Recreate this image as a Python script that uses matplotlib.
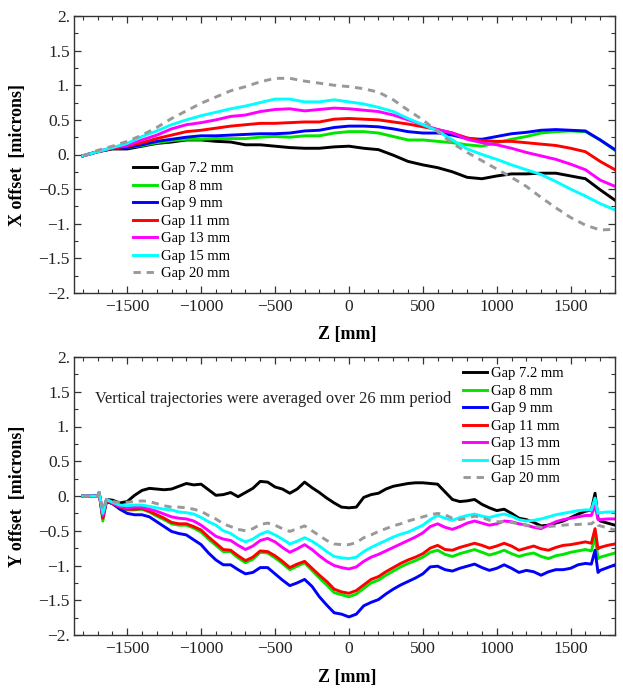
import numpy as np
import matplotlib
matplotlib.use("Agg")
import matplotlib.pyplot as plt

plt.rcParams['font.family'] = ['Liberation Serif', 'DejaVu Serif']

# ---------------- top panel: X offset ----------------
z_top = [-1800, -1700, -1600, -1500, -1400, -1300, -1200, -1100, -1000, -900,
         -800, -700, -600, -500, -400, -300, -200, -100, 0, 100, 200, 300, 400,
         500, 600, 700, 800, 900, 1000, 1100, 1200, 1300, 1400, 1500, 1600,
         1700, 1800]

x_gap72 = [-0.02, 0.04, 0.08, 0.08, 0.12, 0.16, 0.18, 0.21, 0.21, 0.19, 0.18, 0.14,
           0.14, 0.12, 0.10, 0.09, 0.09, 0.11, 0.12, 0.09, 0.07, -0.01, -0.10,
           -0.15, -0.19, -0.25, -0.33, -0.35, -0.31, -0.28, -0.28, -0.27, -0.27,
           -0.31, -0.35, -0.51, -0.66]
x_gap8 = [-0.02, 0.04, 0.09, 0.10, 0.13, 0.17, 0.20, 0.22, 0.22, 0.23, 0.23, 0.23,
          0.25, 0.26, 0.25, 0.27, 0.27, 0.31, 0.33, 0.33, 0.31, 0.26, 0.21, 0.21,
          0.19, 0.17, 0.14, 0.12, 0.17, 0.22, 0.26, 0.31, 0.33, 0.34, 0.33, 0.21, 0.06]
x_gap9 = [-0.02, 0.04, 0.09, 0.10, 0.14, 0.19, 0.22, 0.25, 0.27, 0.27, 0.28, 0.29,
          0.30, 0.30, 0.31, 0.34, 0.35, 0.39, 0.41, 0.41, 0.40, 0.37, 0.33, 0.31,
          0.31, 0.28, 0.23, 0.22, 0.26, 0.30, 0.32, 0.35, 0.36, 0.35, 0.34, 0.21, 0.07]
x_gap11 = [-0.02, 0.04, 0.09, 0.12, 0.17, 0.23, 0.28, 0.33, 0.35, 0.38, 0.41, 0.43,
           0.45, 0.45, 0.46, 0.47, 0.47, 0.51, 0.52, 0.51, 0.50, 0.47, 0.44, 0.40,
           0.36, 0.31, 0.24, 0.20, 0.19, 0.19, 0.17, 0.15, 0.13, 0.09, 0.04, -0.10, -0.22]
x_gap13 = [-0.02, 0.04, 0.10, 0.13, 0.21, 0.28, 0.37, 0.43, 0.46, 0.50, 0.55, 0.57,
           0.62, 0.65, 0.66, 0.63, 0.65, 0.67, 0.66, 0.64, 0.62, 0.57, 0.50, 0.43,
           0.36, 0.31, 0.22, 0.17, 0.14, 0.09, 0.03, -0.02, -0.07, -0.14, -0.22,
           -0.37, -0.46]
x_gap15 = [-0.02, 0.04, 0.10, 0.16, 0.26, 0.34, 0.43, 0.50, 0.56, 0.61, 0.66, 0.70,
           0.75, 0.80, 0.80, 0.76, 0.76, 0.79, 0.76, 0.73, 0.68, 0.62, 0.52, 0.43,
           0.34, 0.21, 0.08, 0.00, -0.07, -0.15, -0.22, -0.29, -0.39, -0.50, -0.60,
           -0.71, -0.80]
x_gap20 = [-0.02, 0.06, 0.12, 0.19, 0.28, 0.39, 0.52, 0.63, 0.74, 0.83, 0.92, 0.98,
           1.05, 1.10, 1.10, 1.06, 1.03, 1.00, 0.98, 0.95, 0.90, 0.79, 0.64, 0.50,
           0.33, 0.16, 0.03, -0.09, -0.21, -0.33, -0.46, -0.62, -0.77, -0.91, -1.02,
           -1.09, -1.08]

# ---------------- bottom panel: Y offset ----------------
z_bot = [-1800, -1750, -1700, -1690, -1665, -1640,
         -1600, -1550, -1500, -1450, -1400, -1350, -1300, -1250, -1200, -1150, -1100, -1050,
         -1000, -950, -900, -850, -800, -750, -700, -650, -600, -550, -500, -450,
         -400, -350, -300, -250, -200, -150, -100, -50, 0, 50, 100, 150,
         200, 250, 300, 350, 400, 450, 500, 550, 600, 650, 700, 750,
         800, 850, 900, 950, 1000, 1050, 1100, 1150, 1200, 1250, 1300, 1350,
         1400, 1450, 1500, 1550, 1600,
         1640, 1665, 1685, 1700, 1750, 1800]

y_gap72 = [0.00, 0.00, 0.00, 0.05, -0.25, -0.05,
           -0.06, -0.10, -0.08, 0.01, 0.08, 0.11, 0.10, 0.09, 0.10, 0.14, 0.18, 0.16,
           0.17, 0.09, 0.01, 0.02, 0.05, -0.01, 0.05, 0.11, 0.21, 0.20, 0.13, 0.10,
           0.04, 0.10, 0.20, 0.12, 0.05, -0.03, -0.10, -0.16, -0.17, -0.16, -0.02, 0.02,
           0.04, 0.10, 0.14, 0.16, 0.18, 0.19, 0.19, 0.18, 0.17, 0.06, -0.05, -0.08,
           -0.07, -0.05, -0.12, -0.17, -0.21, -0.19, -0.25, -0.32, -0.34, -0.38, -0.43, -0.42,
           -0.39, -0.36, -0.31, -0.26, -0.22,
           -0.20, 0.04, -0.32, -0.36, -0.39, -0.42]
y_gap8 = [0.00, 0.00, 0.00, 0.05, -0.36, -0.07,
          -0.11, -0.17, -0.20, -0.20, -0.19, -0.23, -0.29, -0.34, -0.40, -0.42, -0.42, -0.46,
          -0.52, -0.62, -0.71, -0.80, -0.80, -0.89, -0.96, -0.91, -0.81, -0.82, -0.89, -0.97,
          -1.06, -1.01, -0.96, -1.07, -1.18, -1.28, -1.39, -1.42, -1.45, -1.41, -1.33, -1.25,
          -1.21, -1.14, -1.08, -1.02, -0.97, -0.93, -0.88, -0.81, -0.78, -0.84, -0.87, -0.83,
          -0.80, -0.77, -0.81, -0.85, -0.82, -0.78, -0.83, -0.87, -0.84, -0.82, -0.87, -0.90,
          -0.86, -0.84, -0.81, -0.79, -0.77,
          -0.79, -0.58, -0.90, -0.88, -0.85, -0.82]
y_gap9 = [0.00, 0.00, 0.01, 0.04, -0.30, -0.08,
          -0.11, -0.19, -0.25, -0.27, -0.27, -0.30, -0.37, -0.44, -0.51, -0.54, -0.56, -0.63,
          -0.70, -0.82, -0.92, -0.99, -0.99, -1.06, -1.12, -1.10, -1.03, -1.03, -1.12, -1.21,
          -1.29, -1.25, -1.20, -1.30, -1.45, -1.57, -1.68, -1.70, -1.74, -1.70, -1.58, -1.53,
          -1.49, -1.41, -1.34, -1.28, -1.23, -1.18, -1.12, -1.02, -1.01, -1.06, -1.08, -1.04,
          -1.01, -0.98, -1.03, -1.07, -1.04, -0.99, -1.04, -1.10, -1.07, -1.09, -1.14, -1.09,
          -1.06, -1.06, -1.04, -0.99, -0.97,
          -0.98, -0.78, -1.10, -1.07, -1.03, -0.99]
y_gap11 = [0.00, 0.00, 0.00, 0.05, -0.32, -0.06,
           -0.11, -0.16, -0.19, -0.19, -0.18, -0.22, -0.27, -0.32, -0.38, -0.40, -0.40, -0.44,
           -0.49, -0.59, -0.68, -0.77, -0.78, -0.86, -0.93, -0.88, -0.79, -0.80, -0.86, -0.94,
           -1.03, -0.98, -0.94, -1.04, -1.14, -1.23, -1.34, -1.38, -1.40, -1.36, -1.28, -1.20,
           -1.16, -1.09, -1.03, -0.97, -0.92, -0.88, -0.83, -0.75, -0.71, -0.77, -0.78, -0.74,
           -0.71, -0.68, -0.71, -0.75, -0.72, -0.68, -0.72, -0.78, -0.75, -0.72, -0.76, -0.78,
           -0.74, -0.71, -0.70, -0.68, -0.66,
           -0.68, -0.47, -0.76, -0.74, -0.71, -0.69]
y_gap13 = [0.00, 0.00, 0.00, 0.05, -0.28, -0.05,
           -0.10, -0.15, -0.17, -0.16, -0.16, -0.19, -0.22, -0.26, -0.30, -0.32, -0.33, -0.36,
           -0.42, -0.50, -0.58, -0.62, -0.64, -0.71, -0.77, -0.72, -0.64, -0.61, -0.66, -0.74,
           -0.81, -0.76, -0.70, -0.77, -0.86, -0.94, -1.00, -1.03, -1.05, -1.02, -0.94, -0.88,
           -0.84, -0.79, -0.74, -0.69, -0.64, -0.59, -0.53, -0.44, -0.40, -0.45, -0.48, -0.44,
           -0.39, -0.36, -0.39, -0.42, -0.40, -0.36, -0.37, -0.40, -0.42, -0.45, -0.47, -0.42,
           -0.37, -0.34, -0.32, -0.30, -0.28,
           -0.28, -0.13, -0.34, -0.34, -0.33, -0.33]
y_gap15 = [0.00, 0.00, 0.00, 0.05, -0.25, -0.05,
           -0.09, -0.13, -0.14, -0.13, -0.13, -0.15, -0.17, -0.19, -0.20, -0.23, -0.24, -0.26,
           -0.31, -0.37, -0.42, -0.50, -0.54, -0.61, -0.66, -0.62, -0.55, -0.51, -0.56, -0.62,
           -0.69, -0.65, -0.60, -0.65, -0.72, -0.80, -0.87, -0.89, -0.90, -0.88, -0.80, -0.74,
           -0.69, -0.64, -0.59, -0.55, -0.52, -0.47, -0.42, -0.34, -0.28, -0.32, -0.35, -0.31,
           -0.28, -0.26, -0.29, -0.31, -0.28, -0.26, -0.29, -0.34, -0.36, -0.35, -0.33, -0.30,
           -0.27, -0.25, -0.23, -0.21, -0.20,
           -0.20, -0.03, -0.25, -0.24, -0.23, -0.23]
y_gap20 = [0.00, 0.00, 0.00, 0.04, -0.20, -0.05,
           -0.08, -0.09, -0.09, -0.08, -0.07, -0.08, -0.11, -0.14, -0.16, -0.16, -0.17, -0.19,
           -0.22, -0.28, -0.33, -0.40, -0.44, -0.48, -0.50, -0.47, -0.41, -0.39, -0.42, -0.47,
           -0.51, -0.47, -0.43, -0.50, -0.57, -0.64, -0.69, -0.70, -0.70, -0.67, -0.60, -0.56,
           -0.51, -0.47, -0.43, -0.40, -0.36, -0.33, -0.30, -0.27, -0.25, -0.27, -0.32, -0.34,
           -0.32, -0.29, -0.31, -0.35, -0.37, -0.37, -0.38, -0.40, -0.42, -0.43, -0.45, -0.44,
           -0.43, -0.42, -0.41, -0.41, -0.40,
           -0.40, -0.36, -0.42, -0.43, -0.46, -0.49]

labels = ["Gap 7.2 mm", "Gap 8 mm", "Gap 9 mm", "Gap 11 mm", "Gap 13 mm",
          "Gap 15 mm", "Gap 20 mm"]
colors = ["black", "#00e600", "#0000ff", "#ff0000", "#ff00ff", "#00ffff", "#999999"]

ytick_vals = [-2, -1.5, -1, -0.5, 0, 0.5, 1, 1.5, 2]
ytick_labels = ["\u22122.", "\u22121.5", "\u22121.", "\u22120.5", "0.", "0.5", "1.", "1.5", "2."]
xtick_vals = [-1500, -1000, -500, 0, 500, 1000, 1500]
xtick_labels = ["\u22121500", "\u22121000", "\u2212500", "0", "500", "1000", "1500"]

W, H = 623, 691
fig = plt.figure(figsize=(W / 100, H / 100), dpi=100)
ax1 = fig.add_axes([74 / W, 1 - 293 / H, 541 / W, 277 / H])
ax2 = fig.add_axes([74 / W, 1 - 635 / H, 541 / W, 278 / H])


def style_axis(ax, ylabel):
    ax.set_xlim(-1860, 1800)
    ax.set_ylim(-2, 2)
    ax.set_xticks(xtick_vals)
    ax.set_xticklabels(xtick_labels)
    ax.set_xticks(np.arange(-1800, 1801, 100), minor=True)
    ax.set_yticks(ytick_vals)
    ax.set_yticklabels(ytick_labels)
    ax.set_yticks(np.arange(-2, 2.01, 0.25), minor=True)
    ax.tick_params(which="both", direction="in", top=True, right=True,
                   colors="#333333", labelcolor="#222222", labelsize=12.5)
    ax.tick_params(which="major", length=5, width=0.9)
    ax.tick_params(which="minor", length=2.8, width=0.8)
    ax.tick_params(axis="x", pad=4)
    ax.tick_params(axis="y", pad=3)
    for s in ax.spines.values():
        s.set_color("#333333")
        s.set_linewidth(1.0)
    ax.set_xlabel("Z [mm]", fontsize=13, fontweight="bold")
    ax.set_ylabel(ylabel, fontsize=13, fontweight="bold")
    ax.yaxis.set_label_coords(-0.088, 0.5)


def draw(ax, z, series):
    for vals, lab, col in zip(series, labels, colors):
        if lab == "Gap 20 mm":
            ax.plot(z, vals, color=col, lw=2.1, dashes=(2.5, 2.0), label=lab)
        else:
            ax.plot(z, vals, color=col, lw=2.1, label=lab)


draw(ax1, z_top, [x_gap72, x_gap8, x_gap9, x_gap11, x_gap13, x_gap15, x_gap20])
style_axis(ax1, "X offset  [microns]")
ax1.xaxis.set_label_coords(0.505, -0.118)
ax1.legend(loc="upper left", bbox_to_anchor=(0.109, 0.472), frameon=False,
           fontsize=10.5, borderpad=0, borderaxespad=0, handlelength=1.65,
           handletextpad=0.3, labelspacing=0.29)

draw(ax2, z_bot, [y_gap72, y_gap8, y_gap9, y_gap11, y_gap13, y_gap15, y_gap20])
style_axis(ax2, "Y offset  [microns]")
ax2.xaxis.set_label_coords(0.505, -0.124)
ax2.legend(loc="upper left", bbox_to_anchor=(0.719, 0.963), frameon=False,
           fontsize=10.5, borderpad=0, borderaxespad=0, handlelength=1.65,
           handletextpad=0.3, labelspacing=0.29)
ax2.text(-1716, 1.40, "Vertical trajectories were averaged over 26 mm period",
         fontsize=11.8, va="center", ha="left", color="#222222")

fig.savefig("out.png", dpi=100)
